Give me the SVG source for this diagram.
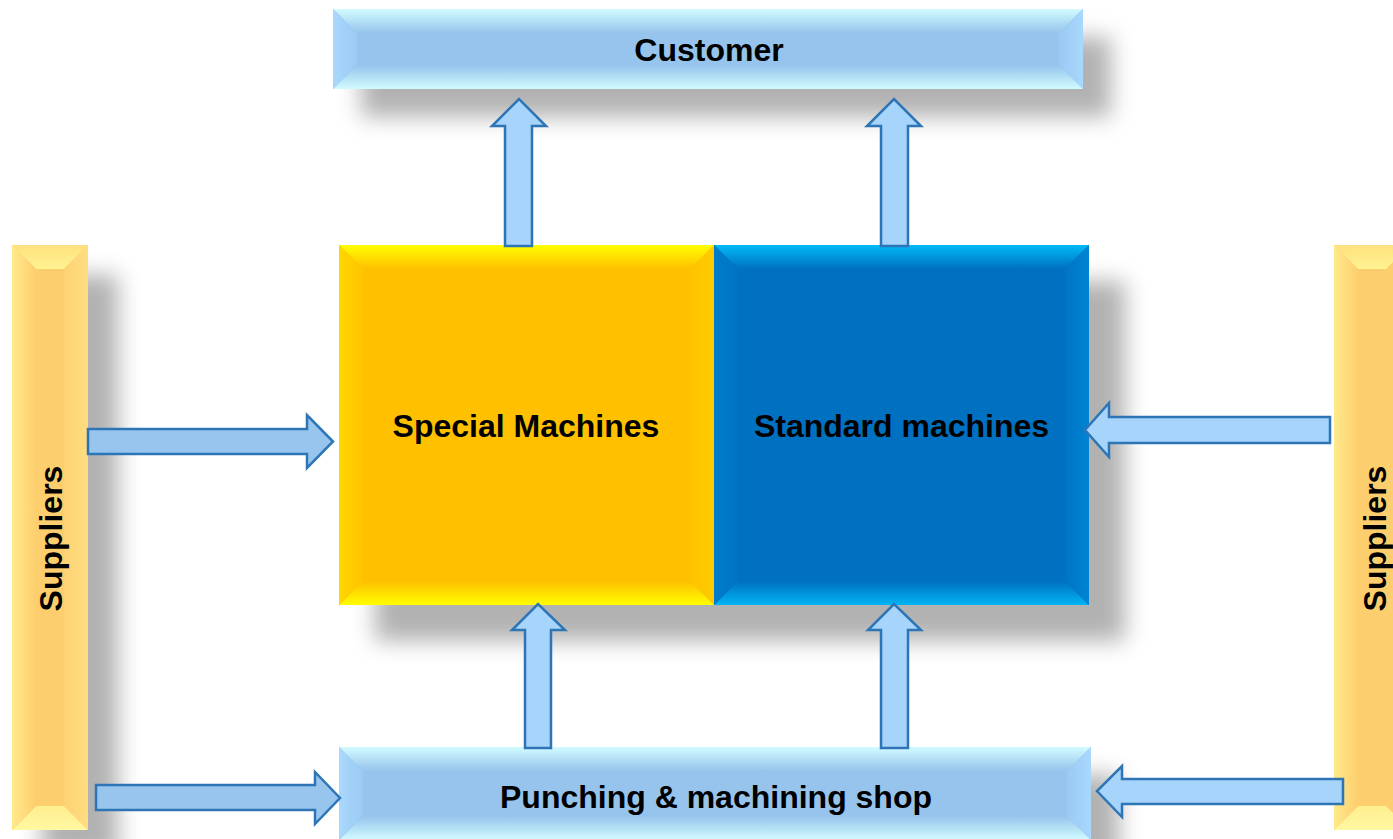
<svg xmlns="http://www.w3.org/2000/svg" width="1393" height="839" viewBox="0 0 1393 839">
<style>
.lbl{font-family:"Liberation Sans",Arial,sans-serif;font-weight:bold;font-size:32px;fill:#000;text-anchor:middle}
.shd{fill:#000;fill-opacity:0.3;filter:url(#blur)}
.arr{stroke:#2E75B6;stroke-width:2.5;stroke-linejoin:miter}
.arrA{fill:#97C5EE}
.arrB{fill:#A6D4FB}
</style>
<defs>
<filter id="blur" x="-50%" y="-50%" width="200%" height="200%"><feGaussianBlur stdDeviation="11"/></filter>
<linearGradient id="lbT" x1="0" y1="0" x2="0" y2="1"><stop offset="0" stop-color="#D2FBFF"/><stop offset="1" stop-color="#96C4EC"/></linearGradient>
<linearGradient id="lbB" x1="0" y1="0" x2="0" y2="1"><stop offset="0" stop-color="#96C4EC"/><stop offset="1" stop-color="#D2FBFF"/></linearGradient>
<linearGradient id="lbL" x1="0" y1="0" x2="1" y2="0"><stop offset="0" stop-color="#AAD8FD"/><stop offset="1" stop-color="#9ACAF3"/></linearGradient>
<linearGradient id="lbR" x1="0" y1="0" x2="1" y2="0"><stop offset="0" stop-color="#9ACAF3"/><stop offset="1" stop-color="#A8D8FD"/></linearGradient>
<linearGradient id="yT" x1="0" y1="0" x2="0" y2="1"><stop offset="0" stop-color="#FFFF00"/><stop offset="1" stop-color="#FFC000"/></linearGradient>
<linearGradient id="yB" x1="0" y1="0" x2="0" y2="1"><stop offset="0" stop-color="#FFC000"/><stop offset="1" stop-color="#FFFF00"/></linearGradient>
<linearGradient id="yL" x1="0" y1="0" x2="1" y2="0"><stop offset="0" stop-color="#FFD800"/><stop offset="1" stop-color="#FFC300"/></linearGradient>
<linearGradient id="yR" x1="0" y1="0" x2="1" y2="0"><stop offset="0" stop-color="#FFC300"/><stop offset="1" stop-color="#FFCC00"/></linearGradient>
<linearGradient id="bT" x1="0" y1="0" x2="0" y2="1"><stop offset="0" stop-color="#00BAF8"/><stop offset="1" stop-color="#0070C0"/></linearGradient>
<linearGradient id="bB" x1="0" y1="0" x2="0" y2="1"><stop offset="0" stop-color="#0070C0"/><stop offset="1" stop-color="#00B4F4"/></linearGradient>
<linearGradient id="bL" x1="0" y1="0" x2="1" y2="0"><stop offset="0" stop-color="#007CCC"/><stop offset="1" stop-color="#0074C4"/></linearGradient>
<linearGradient id="bR" x1="0" y1="0" x2="1" y2="0"><stop offset="0" stop-color="#0074C4"/><stop offset="1" stop-color="#0084D4"/></linearGradient>
<linearGradient id="sT" x1="0" y1="0" x2="0" y2="1"><stop offset="0" stop-color="#FFE07E"/><stop offset="1" stop-color="#FFF392"/></linearGradient>
<linearGradient id="sB" x1="0" y1="0" x2="0" y2="1"><stop offset="0" stop-color="#FFEE90"/><stop offset="1" stop-color="#FFF8A0"/></linearGradient>
<linearGradient id="sL" x1="0" y1="0" x2="1" y2="0"><stop offset="0" stop-color="#FFEA8C"/><stop offset="1" stop-color="#FDCE6E"/></linearGradient>
<linearGradient id="sR" x1="0" y1="0" x2="1" y2="0"><stop offset="0" stop-color="#FDD274"/><stop offset="1" stop-color="#FFDE80"/></linearGradient>
</defs>
<rect width="1393" height="839" fill="#FFFFFF"/>

<g id="customer">
<rect class="shd" x="361" y="37" width="750" height="80"/>
<rect x="333" y="9" width="750" height="80" fill="#96C4EC"/>
<polygon points="333,9 1083,9 1059,33 357,33" fill="url(#lbT)"/>
<polygon points="333,89 1083,89 1059,65 357,65" fill="url(#lbB)"/>
<polygon points="333,9 357,33 357,65 333,89" fill="url(#lbL)"/>
<polygon points="1083,9 1059,33 1059,65 1083,89" fill="url(#lbR)"/>
<text class="lbl" x="709" y="61">Customer</text>
</g>

<g id="suppliers-left">
<rect class="shd" x="42" y="275" width="76" height="585"/>
<rect x="12" y="245" width="76" height="585" fill="#FDCE6E"/>
<polygon points="12,245 88,245 64,269 36,269" fill="url(#sT)"/>
<polygon points="12,830 88,830 64,806 36,806" fill="url(#sB)"/>
<polygon points="12,245 36,269 36,806 12,830" fill="url(#sL)"/>
<polygon points="88,245 64,269 64,806 88,830" fill="url(#sR)"/>
<text class="lbl" transform="translate(62,538.5) rotate(-90)">Suppliers</text>
</g>

<g id="suppliers-right">
<rect x="1334" y="245" width="76" height="585" fill="#FDCE6E"/>
<polygon points="1334,245 1410,245 1386,269 1358,269" fill="url(#sT)"/>
<polygon points="1334,830 1410,830 1386,806 1358,806" fill="url(#sB)"/>
<polygon points="1334,245 1358,269 1358,806 1334,830" fill="url(#sL)"/>
<text class="lbl" transform="translate(1386,538.5) rotate(-90)">Suppliers</text>
</g>

<g id="machines-shadow">
<rect class="shd" x="375" y="281" width="750" height="360"/>
</g>

<g id="special-machines">
<rect x="339" y="245" width="375" height="360" fill="#FFC000"/>
<polygon points="339,245 714,245 690,269 363,269" fill="url(#yT)"/>
<polygon points="339,605 714,605 690,581 363,581" fill="url(#yB)"/>
<polygon points="339,245 363,269 363,581 339,605" fill="url(#yL)"/>
<polygon points="714,245 690,269 690,581 714,605" fill="url(#yR)"/>
<text class="lbl" x="526" y="437">Special Machines</text>
</g>

<g id="standard-machines">
<rect x="714" y="245" width="375" height="360" fill="#0070C0"/>
<polygon points="714,245 1089,245 1065,269 738,269" fill="url(#bT)"/>
<polygon points="714,605 1089,605 1065,581 738,581" fill="url(#bB)"/>
<polygon points="714,245 738,269 738,581 714,605" fill="url(#bL)"/>
<polygon points="1089,245 1065,269 1065,581 1089,605" fill="url(#bR)"/>
<text class="lbl" x="901.5" y="437">Standard machines</text>
</g>

<g id="punching-shop">
<rect class="shd" x="367" y="775" width="752" height="93"/>
<rect x="339" y="747" width="752" height="93" fill="#96C4EC"/>
<polygon points="339,747 1091,747 1067,771 363,771" fill="url(#lbT)"/>
<polygon points="339,840 1091,840 1067,816 363,816" fill="url(#lbB)"/>
<polygon points="339,747 363,771 363,816 339,840" fill="url(#lbL)"/>
<polygon points="1091,747 1067,771 1067,816 1091,840" fill="url(#lbR)"/>
<text class="lbl" x="716" y="808">Punching &amp; machining shop</text>
</g>

<g id="connectors">
<polygon class="arr arrB" points="505,246 505,126 492,126 519,99 546,126 532,126 532,246"/>
<polygon class="arr arrB" points="881,246 881,126 867,126 894,99 921,126 908,126 908,246"/>
<polygon class="arr arrB" points="525,748 525,630 512,630 538,604 565,630 551,630 551,748"/>
<polygon class="arr arrB" points="881,748 881,630 868,630 894,604 921,630 908,630 908,748"/>
<polygon class="arr arrA" points="88,429 307,429 307,415 333,441.5 307,468 307,454 88,454"/>
<polygon class="arr arrB" points="1330,417 1109,417 1109,403 1085,430 1109,457 1109,443 1330,443"/>
<polygon class="arr arrA" points="96,785 315,785 315,772 340,798 315,824 315,810 96,810"/>
<polygon class="arr arrB" points="1343,779 1122,779 1122,766 1097,791 1122,817 1122,804 1343,804"/>
</g>
</svg>
